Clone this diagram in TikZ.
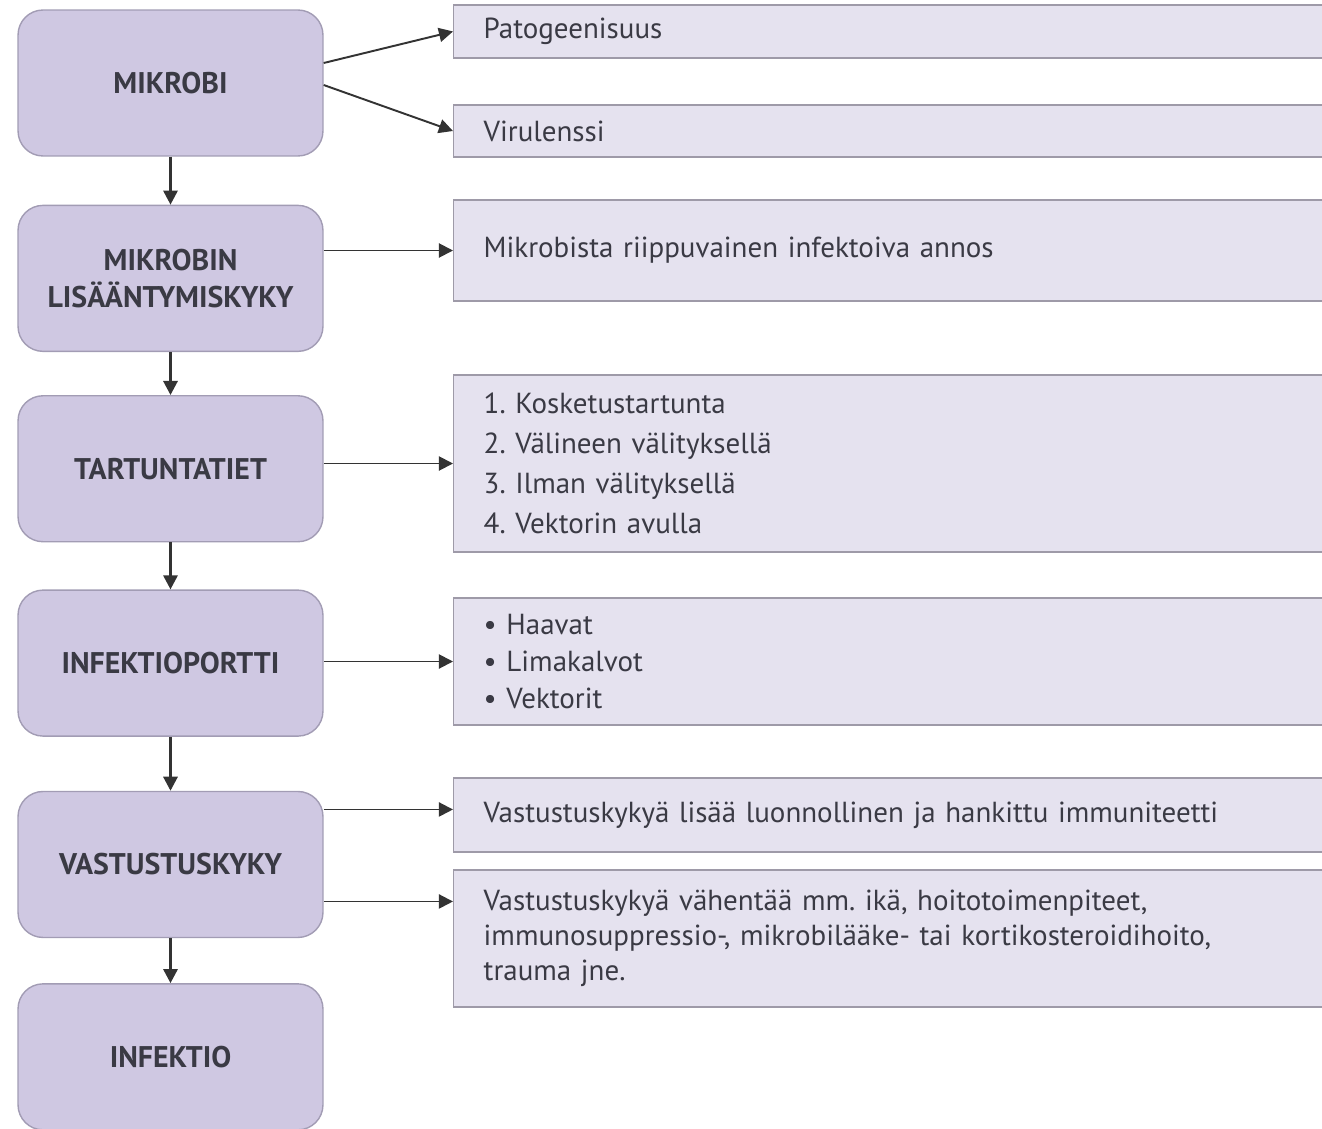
\documentclass[tikz,border=0pt]{standalone}
\usepackage{fontspec}
\setmainfont{PT Sans}
\usetikzlibrary{calc,
arrows.meta,
positioning}
\definecolor{stepfill}{HTML}{CFC8E2}
\definecolor{stepline}{HTML}{A29CB4}
\definecolor{infofill}{HTML}{E5E2EF}
\definecolor{infoline}{HTML}{9E9AA8}
\definecolor{txtgray}{HTML}{3A3A44}
\frenchspacing

\begin{document}
\begin{tikzpicture} [->,
  >={Triangle[width = 8pt, length = 8pt]},
  x = 0.02cm, y = -0.02cm,
  line width = 1.1pt,
  draw = black!80,
  main node/.style={rectangle, rounded corners = .5cm,
      fill = stepfill, draw = stepline, line width = .8pt,
      minimum width = 6.1cm, minimum height = 2.92cm,
      align=center, text = txtgray,
      font = \fontsize{17}{21}\selectfont\bfseries},
  info node/.style={rectangle, fill = infofill, draw = infoline,
      line width = .8pt, anchor = west,
      inner xsep = .6cm, text width = 16.24cm,
      align=left, text = txtgray,
      font = \fontsize{16.5}{20}\selectfont}]

  \useasboundingbox (0, 0) rectangle (1322, 1129);

  % left column
  \node [main node] (mikrobi) at (170.5, 83) {MIKROBI};

  \node [main node,
    below = .96cm of mikrobi
  ] (lisaa) {MIKROBIN\\LISÄÄNTYMISKYKY};

  \node [main node,
    below = .86cm of lisaa
  ] (tart) {TARTUNTATIET};

  \node [main node,
    below = .94cm of tart
  ] (portti) {INFEKTIOPORTTI};

  \node [main node,
    below = 1.08cm of portti
  ] (vast) {VASTUSTUSKYKY};

  \node [main node,
    below = .9cm of vast
  ] (infektio) {INFEKTIO};

  \foreach \a/\b in {mikrobi/lisaa, lisaa/tart, tart/portti, portti/vast, vast/infektio}
  \draw [line width = 1.6pt] (\a.south) -- (\b.north);

  % right column
  \node [info node, minimum height = 1.06cm] (patog) at (453, 31.5) {Patogeenisuus};
  \node [info node, minimum height = 1.04cm] (virul) at (453, 131) {Virulenssi};

  \node [info node,
    minimum height = 2.02cm
  ] (annos) at (453, 250.5) {Mikrobista riippuvainen infektoiva annos};

  \node [info node,
    minimum height = 3.54cm
  ] (tiet) at (453, 463.5) {1. Kosketustartunta\\[2.7pt]
    2. Välineen välityksellä\\[2.7pt]
    3. Ilman välityksellä\\[2.7pt]
    4. Vektorin avulla};

  \node [info node,
    minimum height = 2.54cm
  ] (reitit) at (453, 661.5) {\textbullet\ Haavat\\[1pt]
    \textbullet\ Limakalvot\\[1pt]
    \textbullet\ Vektorit};

  \node [info node,
    minimum height = 1.48cm
  ] (lisaaimm) at (453, 815) {Vastustuskykyä lisää luonnollinen ja hankittu immuniteetti};

  \node [info node,
    minimum height = 2.74cm
  ] (vahentaa) at (453, 938.5) {Vastustuskykyä vähentää mm. ikä, hoitotoimenpiteet,\\
    immunosuppressio-, mikrobilääke- tai kortikosteroidihoito,\\
    trauma jne.};

  \draw ($(mikrobi.east) + (0, -20)$) -- (patog.west);
  \draw ($(mikrobi.east) + (0, 2)$) -- (virul.west);
  \draw (lisaa.east |- annos.west) -- (annos.west);
  \draw (tart.east |- tiet.west) -- (tiet.west);
  \draw (portti.east |- reitit.west) -- (reitit.west);

  \draw ($(vast.east) + (0, -55)$) coordinate (v1) -- (v1 -| lisaaimm.west);
  \draw ($(vast.east) + (0, 37)$) coordinate (v2) -- (v2 -| vahentaa.west);

\end{tikzpicture}
\end{document}
